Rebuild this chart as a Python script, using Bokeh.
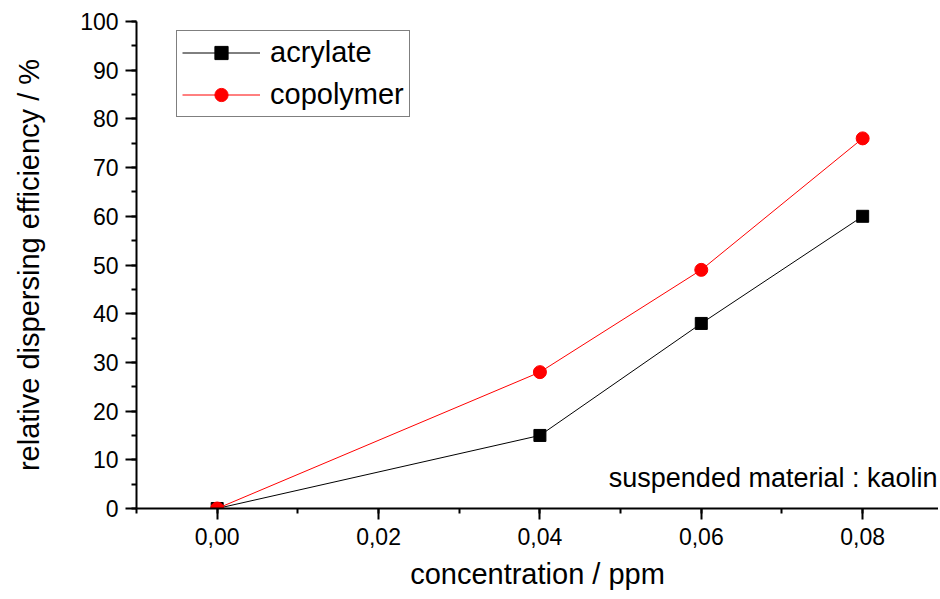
from bokeh.plotting import figure
from bokeh.models import (Range1d, SingleIntervalTicker, CustomJSTickFormatter,
                          Legend, LegendItem, Label)
from bokeh.embed import file_html
from bokeh.resources import INLINE

# ---- data ----
concentration = [0.00, 0.04, 0.06, 0.08]
acrylate = [0, 15, 38, 60]
copolymer = [0, 28, 49, 76]
series_names = ["acrylate", "copolymer"]
x_label = "concentration / ppm"
y_label = "relative dispersing efficiency / %"
note = "suspended material : kaolin"

FONT = "Liberation Sans"
X_END = 0.0894

p = figure(width=938, height=597, output_backend="svg", toolbar_location=None,
           x_range=Range1d(-0.01, X_END), y_range=Range1d(0, 100),
           min_border_left=136, min_border_right=0, min_border_top=21,
           min_border_bottom=89)
p.outline_line_color = None
p.xgrid.visible = False
p.ygrid.visible = False
p.background_fill_color = "white"
p.border_fill_color = "white"

r1l = p.line(concentration, acrylate, line_color="black", line_width=1)
r1m = p.scatter(concentration, acrylate, marker="square", size=12,
                fill_color="black", line_color="black")
r2l = p.line(concentration, copolymer, line_color="#ff0000", line_width=1)
r2m = p.scatter(concentration, copolymer, marker="circle", size=13,
                fill_color="#ff0000", line_color="#ff0000")

p.xaxis.ticker = SingleIntervalTicker(interval=0.02, num_minor_ticks=2)
p.yaxis.ticker = SingleIntervalTicker(interval=10, num_minor_ticks=2)
p.xaxis.formatter = CustomJSTickFormatter(code="return tick.toFixed(2).replace('.', ',');")

for ax in (p.xaxis[0], p.yaxis[0]):
    ax.axis_line_width = 2
    ax.axis_line_color = "black"
    ax.major_tick_line_width = 2
    ax.minor_tick_line_width = 2
    ax.major_tick_line_color = "black"
    ax.minor_tick_line_color = "black"
    ax.major_tick_in = 0
    ax.minor_tick_in = 0
    ax.major_tick_out = 11
    ax.minor_tick_out = 5
    ax.major_label_text_font = FONT
    ax.major_label_text_font_size = "23px"
    ax.major_label_text_color = "black"
    ax.axis_label_text_font = FONT
    ax.axis_label_text_font_size = "29px"
    ax.axis_label_text_font_style = "normal"
    ax.axis_label_text_color = "black"

p.xaxis.axis_label = x_label
p.yaxis.axis_label = y_label
p.xaxis.major_label_standoff = 8
p.xaxis.axis_label_standoff = 10
p.yaxis.major_label_standoff = 7
p.yaxis.axis_label_standoff = 32

legend = Legend(items=[LegendItem(label=series_names[0], renderers=[r1l, r1m]),
                       LegendItem(label=series_names[1], renderers=[r2l, r2m])],
                location=(40, 391), orientation="vertical")
legend.label_text_font = FONT
legend.label_text_font_size = "29px"
legend.label_text_color = "black"
legend.glyph_width = 78
legend.glyph_height = 33
legend.label_height = 33
legend.label_standoff = 10
legend.padding = 5
legend.spacing = 9
legend.margin = 0
legend.border_line_color = "black"
legend.border_line_width = 1
legend.background_fill_color = "white"
legend.background_fill_alpha = 1
p.add_layout(legend, "center")

p.add_layout(Label(x=X_END, y=0, x_offset=-1, y_offset=31, text=note,
                   text_align="right", text_baseline="alphabetic",
                   text_font=FONT, text_font_size="27px", text_color="black"))

open("out.html", "w").write(file_html(p, INLINE))
